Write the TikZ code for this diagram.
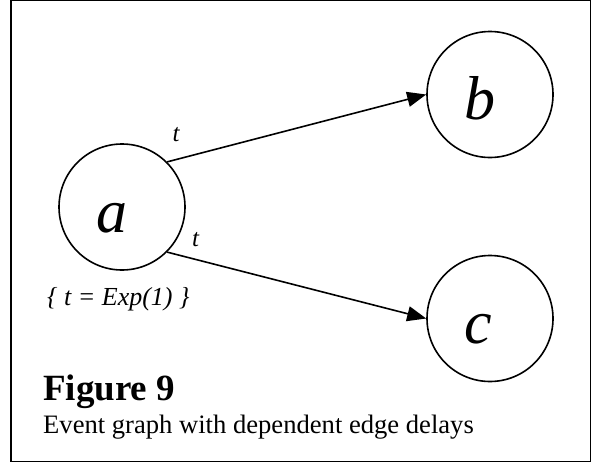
\documentclass[tikz,border=0pt]{standalone}
\usepackage{fontspec}
\setmainfont{Liberation Serif}
\usetikzlibrary{arrows.meta}

\begin{document}
\begin{tikzpicture}[x=1pt,y=-1pt,
  event/.style={circle, draw, line width=1.6pt, minimum size=126pt, inner sep=0pt,
    text width=52pt, align=left, text height=50pt, text depth=0pt,
    font=\fontsize{62}{62}\selectfont\itshape},
  delay/.style={line width=1.6pt, -{Triangle[length=19pt,width=15pt]}},
  lbl/.style={inner sep=0pt, text height=15pt, text depth=0pt, font=\fontsize{25}{25}\selectfont\itshape}]
\useasboundingbox (0,0) rectangle (591,463);
\draw[line width=1.3pt] (11,0.7) rectangle (590.3,461.6);
\node[event] (a) at (122,207) {a};
\node[event] (b) at (490,94.5) {b};
\node[event] (c) at (490,318.5) {c};
\draw[delay] (a.north east) -- node[lbl, pos=0.035, above=17pt] {t} (b.west);
\draw[delay] (a.south east) -- node[lbl, pos=0.11, above=12pt] {t} (c.west);
\node[anchor=base west, inner sep=0pt, font=\fontsize{26}{26}\selectfont\itshape] (rule) at (47,305) {\{ t = Exp(1) \}};
\node[anchor=base west, inner sep=0pt, font=\fontsize{37}{37}\selectfont\bfseries] (fig) at (43,400) {Figure 9};
\node[anchor=base west, inner sep=0pt, font=\fontsize{26.6}{26.6}\selectfont] (cap) at (43,433.5) {Event graph with dependent edge delays};
\end{tikzpicture}
\end{document}
